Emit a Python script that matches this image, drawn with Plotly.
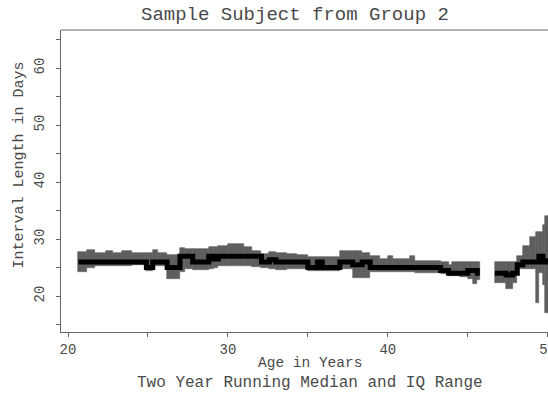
import plotly.graph_objects as go

# Running-window segments (age in years) with IQ range and median (days)
seg_start = [20.65, 21.2, 21.7, 22.4, 22.8, 23.4, 24.0, 24.9, 25.3, 25.6, 26.2, 27.0, 27.3, 27.8,
             28.8, 29.1, 29.4, 30.0, 31.0, 31.5, 32.1, 32.6, 33.0, 33.7, 34.3, 35.0, 35.6, 35.9,
             37.0, 37.8, 38.4, 38.9, 39.5, 40.0, 40.3, 41.4, 41.7, 43.3, 43.8, 44.0, 44.5, 45.0,
             45.3, 45.6,
             46.7, 47.4, 47.8, 48.1, 48.45, 48.9, 49.3, 49.45, 49.7, 49.85]
seg_end = [21.2, 21.7, 22.4, 22.8, 23.4, 24.0, 24.9, 25.3, 25.6, 26.2, 27.0, 27.3, 27.8, 28.8,
           29.1, 29.4, 30.0, 31.0, 31.5, 32.1, 32.6, 33.0, 33.7, 34.3, 35.0, 35.6, 35.9, 37.0,
           37.8, 38.4, 38.9, 39.5, 40.0, 40.3, 41.4, 41.7, 43.3, 43.8, 44.0, 44.5, 45.0, 45.3,
           45.6, 45.75,
           47.4, 47.8, 48.1, 48.45, 48.9, 49.3, 49.45, 49.7, 49.85, 50.1]
q1 = [24.3, 24.9, 25.2, 25.3, 25.3, 25.3, 25.4, 24.4, 25.3, 25.2, 23.0, 24.2, 24.8, 24.6,
      24.8, 25.0, 25.3, 25.3, 25.3, 25.1, 24.9, 24.7, 24.6, 24.8, 24.8, 24.4, 24.4, 24.4,
      24.8, 23.2, 23.2, 24.3, 24.2, 24.2, 24.2, 24.2, 24.1, 23.8, 23.5, 23.5, 23.4, 23.0,
      22.2, 22.8,
      22.3, 21.2, 22.3, 24.7, 24.7, 24.7, 18.8, 24.0, 22.0, 17.0]
median = [26, 26, 26, 26, 26, 26, 26, 25, 26, 26, 25, 27, 27, 26,
          27, 26.5, 27, 27, 27, 27, 26, 26.4, 26, 26, 26, 25, 26, 25,
          26, 25.5, 26, 25, 25, 25, 25, 25, 25, 24.5, 24, 24, 24, 24.5,
          24.5, 24,
          24, 23.7, 24, 25.5, 26, 26, 26, 27, 26, 26.2]
q3 = [27.8, 28.1, 27.6, 28.0, 27.5, 28.0, 27.6, 27.5, 28.1, 27.5, 27.2, 28.4, 28.3, 28.3,
      28.6, 28.6, 28.8, 29.2, 28.6, 27.9, 27.4, 27.8, 27.6, 27.4, 27.3, 26.8, 26.8, 26.8,
      27.9, 27.9, 27.6, 27.0, 26.5, 27.0, 26.5, 27.0, 26.2, 26.0, 25.4, 26.0, 26.0, 26.0,
      26.0, 26.0,
      26.0, 26.0, 26.0, 27.0, 28.8, 30.3, 31.2, 31.2, 32.5, 34.0]

x_ticks = [20, 30, 40, 50]
y_ticks = [20, 30, 40, 50, 60]

FONT = "Liberation Mono, Courier New, monospace"
TXT = "#4a4a4a"
AX = "#666666"
BAND = "#5e5e5e"

fig = go.Figure()

# IQ range as bars spanning each segment
fig.add_trace(go.Bar(
    x=[(a + b) / 2 for a, b in zip(seg_start, seg_end)],
    width=[b - a for a, b in zip(seg_start, seg_end)],
    base=q1,
    y=[h - l for h, l in zip(q3, q1)],
    marker=dict(color=BAND, line=dict(width=0.6, color=BAND)),
    hoverinfo="skip", showlegend=False,
))

# Running median as step line, broken at gaps
mx, my = [], []
for i in range(len(seg_start)):
    if i > 0 and abs(seg_start[i] - seg_end[i - 1]) > 1e-9:
        mx += [seg_end[i - 1], None]
        my += [median[i - 1], None]
    mx.append(seg_start[i])
    my.append(median[i])
mx.append(seg_end[-1])
my.append(median[-1])
fig.add_trace(go.Scatter(x=mx, y=my, mode="lines", line=dict(color="black", width=5, shape="hv"),
                         connectgaps=False, showlegend=False, hoverinfo="skip"))

fig.update_layout(
    width=548, height=394,
    margin=dict(l=61, r=0, t=30, b=62, autoexpand=False),
    paper_bgcolor="white", plot_bgcolor="white",
    barmode="overlay", bargap=0,
    font=dict(family=FONT, color=TXT, size=14),
    showlegend=False,
)
fig.update_xaxes(
    range=[19.56, 50.02], tickvals=x_ticks, ticktext=[str(v) for v in x_ticks],
    showgrid=False, zeroline=False, showline=True, linecolor=AX, linewidth=1.2,
    ticks="outside", ticklen=4, tickcolor=AX, tickwidth=1.2,
    minor=dict(dtick=5, tick0=0, ticks="outside", ticklen=4, tickcolor=AX, showgrid=False),
    tickfont=dict(size=14, color=TXT, family=FONT), ticklabelstandoff=0,
    ticklabeloverflow="allow", automargin=False,
)
fig.update_yaxes(
    range=[13.7, 66.7], tickvals=y_ticks, ticktext=[str(v) for v in y_ticks],
    showgrid=False, zeroline=False, showline=True, linecolor=AX, linewidth=1.2,
    ticks="outside", ticklen=4, tickcolor=AX, tickwidth=1.2, tickangle=-90,
    minor=dict(dtick=5, tick0=0, ticks="outside", ticklen=4, tickcolor=AX, showgrid=False),
    tickfont=dict(size=14, color=TXT, family=FONT), ticklabelstandoff=6, automargin=False,
)
# top border of frame
fig.add_shape(type="line", xref="paper", yref="paper", x0=0, x1=1.02, y0=1, y1=1,
              line=dict(color=AX, width=1.2))

fig.add_annotation(text="Sample Subject from Group 2", xref="paper", yref="paper",
                   x=0.4805, y=1, yshift=15, yanchor="middle", xanchor="center",
                   showarrow=False, font=dict(size=19, family=FONT, color=TXT))
fig.add_annotation(text="Age in Years", xref="paper", yref="paper",
                   x=0.511, y=0, yshift=-31, yanchor="middle", xanchor="center",
                   showarrow=False, font=dict(size=14.5, family=FONT, color=TXT))
fig.add_annotation(text="Two Year Running Median and IQ Range", xref="paper", yref="paper",
                   x=0.511, y=0, yshift=-51, yanchor="middle", xanchor="center",
                   showarrow=False, font=dict(size=16, family=FONT, color=TXT))
fig.add_annotation(text="Interval Length in Days", xref="paper", yref="paper",
                   x=0, xshift=-41, y=0.551, textangle=-90, xanchor="center", yanchor="middle",
                   showarrow=False, font=dict(size=15, family=FONT, color=TXT))

fig.write_html("out.html")
